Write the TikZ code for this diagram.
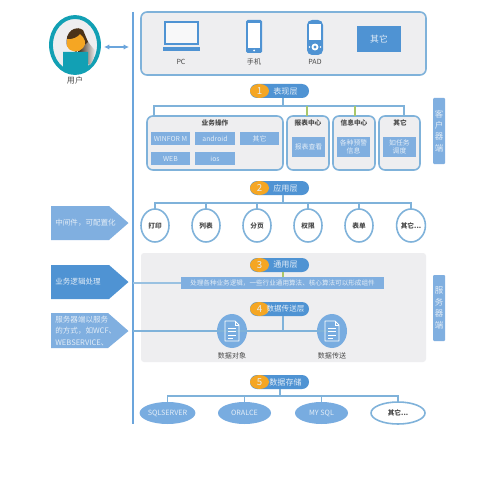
\documentclass[tikz,border=0pt]{standalone}
\usepackage{fontspec}
\setmainfont{Noto Sans CJK SC}
\usetikzlibrary{shapes.geometric,shapes.arrows,arrows.meta}
\definecolor{linec}{HTML}{7FB2DA}
\definecolor{mainl}{HTML}{6BA5DC}
\definecolor{panel}{HTML}{EEEEF0}
\definecolor{pillb}{HTML}{4F93D3}
\definecolor{innerb}{HTML}{80AFE0}
\definecolor{softw}{HTML}{E3EDF7}
\definecolor{txt}{HTML}{4A4A4A}
\definecolor{oran}{HTML}{F5A623}
\definecolor{teal1}{HTML}{12A0B4}
\definecolor{green1}{HTML}{A9C76A}
\definecolor{circb}{HTML}{78ACE0}
\newcommand{\fs}[1]{\fontsize{#1}{#1}\selectfont}
\newcommand{\bx}[7]{%
  \pgfmathsetmacro\cxx{(#2+#4)/2}\pgfmathsetmacro\cyy{(#3+#5)/2}%
  \pgfmathsetmacro\ww{abs(#4-#2)*0.02}\pgfmathsetmacro\hh{abs(#5-#3)*0.02}%
  \node[#6,minimum width=\ww cm,minimum height=\hh cm,inner sep=0pt,outer sep=0pt] (#1) at (\cxx,\cyy) {#7};}
\newcommand{\pill}[6][4.6]{% size, name, x1, y1, number, text
  \pgfmathsetmacro\pxb{#3+59}\pgfmathsetmacro\pyb{#4+14}\pgfmathsetmacro\oxb{#3+19}%
  \bx{#2}{#3}{#4}{\pxb}{\pyb}{pillbox}{}
  \bx{#2o}{#3}{#4}{\oxb}{\pyb}{pillnum}{#5}
  \node[pilltext,font=\fs{#1}] (#2t) at ([xshift=0.12cm]#2.center) {#6};}
\newcommand{\docicon}[1]{%
  \begin{scope}[shift={(#1)}]
    \draw[white,line width=0.5pt,line join=round] (-7,-10) -- (3,-10) -- (7,-6) -- (7,10) -- (-7,10) -- cycle;
    \draw[white,line width=0.4pt] (3,-10) -- (3,-6) -- (7,-6);
    \draw[white,line width=0.5pt] (-4,-3) -- (4,-3) (-4,0.5) -- (4,0.5) (-4,4) -- (4,4) (-4,7) -- (1,7);
  \end{scope}}
\tikzset{
  pillbox/.style={fill=pillb,rounded corners=0.14cm},
  pillnum/.style={shape=ellipse,fill=oran,text=softw,font=\fs{5.5}},
  pilltext/.style={text=softw},
  treeline/.style={draw=linec,line width=0.8pt},
  treeg/.style={draw=green1,line width=0.8pt},
  mainline/.style={draw=mainl,line width=1.1pt},
  grp/.style={draw=linec,line width=0.9pt,fill=panel,rounded corners=0.12cm},
  innerbox/.style={fill=innerb,text=softw,font=\fs{3.9},align=center},
  captxt/.style={text=txt,font=\fs{4}},
  titletxt/.style={text=txt,font=\bfseries\fs{3.8}},
  circbox/.style={shape=ellipse,draw=linec,line width=0.9pt,fill=white,text=txt,font=\bfseries\fs{3.8}},
  sidebox/.style={fill=innerb,text=softw,font=\fs{4.8},align=center,rounded corners=0.02cm},
  tagtxt/.style={text=softw,font=\fs{4.3},align=left},
  dbbox/.style={shape=ellipse,fill=circb,text=softw,font=\fs{4.1}},
  docc/.style={shape=ellipse,fill=circb},
}
\begin{document}
\begin{tikzpicture}[x=0.02cm,y=-0.02cm]
\useasboundingbox (0,0) rectangle (500,500);
\fill[white] (0,0) rectangle (500,500);

% grey panel
\bx{pan}{141}{253}{426}{362}{fill=panel,rounded corners=0.06cm}{}

% top box
\bx{top}{141}{12}{426}{75}{grp}{}

% user
\bx{user}{51}{17}{99}{73}{shape=ellipse,draw=teal1,line width=2.2pt,fill=panel}{}
\shade[left color=black!70!brown,right color=panel] (78,28) .. controls (86,36) and (88,44) .. (95,50) .. controls (95,56) and (93,62) .. (90,65) -- (78,60) -- cycle;
\fill[black!60!brown] (67,46) .. controls (64,31) and (76,25) .. (83,30) -- (88,42) -- (76,52) -- cycle;
\fill[oran] (67,39) .. controls (72,40) and (78,37) .. (80,34) .. controls (85,38) and (87,44) .. (83,48) .. controls (79,53) and (70,53) .. (67,46) -- cycle;
\fill[teal1] (63,52) -- (88,52) -- (88,69) .. controls (82,72) and (70,72) .. (63,69) -- cycle;
\node[captxt,font=\fs{4.6}] (userl) at (75,80) {用户};

% main line
\coordinate (mt) at (133,12);
\coordinate (mb) at (133,424);
\draw[mainline] (mt) -- (mb);
\coordinate (au) at (104,47);
\coordinate (am) at (129,47);
\draw[draw=mainl,line width=0.8pt,{Latex[length=3pt,width=3pt]}-{Latex[length=3pt,width=3pt]}] (au) -- (am);

% devices
\draw[draw=pillb,line width=0.9pt,fill=white!60!panel] (165,22) rectangle (198,44);
\fill[pillb] (163,47) -- (200,47) -- (200,51.5) -- (163,51.5) -- cycle;
\node[captxt] (pcl) at (181,62) {PC};
\fill[pillb,rounded corners=0.03cm] (246,20) rectangle (262,53);
\fill[white] (248,23) rectangle (260,48);
\fill[white] (254,50.5) circle (1);
\node[captxt] (phl) at (254,62) {手机};
\fill[pillb,rounded corners=0.1cm] (307,20) rectangle (323,55);
\fill[white] (309,24) rectangle (321,40);
\fill[white] (315,47) circle (3.5);
\fill[pillb] (315,47) circle (1.6);
\fill[white] (309.5,47) circle (0.8) (320.5,47) circle (0.8);
\node[captxt] (pdl) at (315,62) {PAD};
\bx{oth}{357}{26}{401}{52}{fill=pillb,text=softw,font=\fs{5}}{其它}

% layer 1
\pill{p1}{250}{84}{1}{表现层}
\coordinate (t1) at (283,106);
\coordinate (t1l) at (154,106);
\coordinate (t1g) at (307,106);
\coordinate (t1h) at (355,106);
\coordinate (t1r) at (404,106);
\bx{g1}{147}{116}{283}{170}{grp}{}
\bx{g2}{287}{116}{329}{170}{grp}{}
\bx{g3}{333}{116}{375}{170}{grp}{}
\bx{g4}{379}{116}{420}{170}{grp}{}
\draw[treeline] (t1 |- p1.south) -- (t1);
\draw[treeline] (t1l |- g1.north) -- (t1l) -- (t1r) -- (t1r |- g4.north);
\draw[treeg] (t1g) -- (t1g |- g2.north);
\draw[treeg] (t1h) -- (t1h |- g3.north);
\node[titletxt] (g1t) at (215,123) {业务操作};
\node[titletxt] (g2t) at (308,123) {报表中心};
\node[titletxt] (g3t) at (354,123) {信息中心};
\node[titletxt] (g4t) at (400,123) {其它};
\bx{i1}{151}{132}{190}{145}{innerbox}{WINFOR M}
\bx{i2}{195}{132}{235}{145}{innerbox}{android}
\bx{i3}{240}{132}{279}{145}{innerbox}{其它}
\bx{i4}{151}{152}{190}{165}{innerbox}{WEB}
\bx{i5}{195}{152}{235}{165}{innerbox}{ios}
\bx{i6}{292}{137}{325}{157}{innerbox}{报表查看}
\bx{i7}{337}{137}{370}{157}{innerbox}{各种预警\\[1pt]信息}
\bx{i8}{383}{137}{416}{157}{innerbox}{如任务\\[1pt]调度}
\bx{s1}{433}{98}{445}{164}{sidebox}{客\\[1.7pt]户\\[1.7pt]器\\[1.7pt]端}

% layer 2
\pill{p2}{250}{181}{2}{应用层}
\bx{c1}{141}{209}{169}{242}{circbox}{打印}
\bx{c2}{192}{209}{220}{242}{circbox}{列表}
\bx{c3}{243}{209}{271}{242}{circbox}{分页}
\bx{c4}{294}{209}{322}{242}{circbox}{权限}
\bx{c5}{345}{209}{373}{242}{circbox}{表单}
\bx{c6}{397}{209}{425}{242}{circbox}{其它...}
\coordinate (t2) at (283,203);
\draw[treeline] (t2 |- p2.south) -- (t2);
\draw[treeline] (c1.north) -- (c1.north |- t2) -- (c6.north |- t2) -- (c6.north);
\draw[treeline] (c2.north |- t2) -- (c2.north);
\draw[treeline] (c3.north |- t2) -- (c3.north);
\draw[treeline] (c4.north |- t2) -- (c4.north);
\draw[treeline] (c5.north |- t2) -- (c5.north);

% left tags
\fill[fill=innerb] (51,206) -- (109,206) -- (128.5,223) -- (109,240) -- (51,240) -- cycle;
\node[tagtxt,inner sep=0pt,anchor=west] (tag1) at (55,223) {中间件，可配置化};
\fill[fill=pillb] (51,265) -- (109,265) -- (128.5,282) -- (109,299) -- (51,299) -- cycle;
\node[tagtxt,inner sep=0pt,anchor=west] (tag2) at (55,282) {业务逻辑处理};
\fill[fill=innerb] (51,313) -- (108,313) -- (128.5,331) -- (108,348) -- (51,348) -- cycle;
\node[tagtxt,inner sep=0pt,anchor=west] (tag3) at (55,331) {服务器端以服务\\[2.2pt]的方式，如WCF、\\[2.2pt]WEBSERVICE、};

% layer 3
\pill{p3}{250}{258}{3}{通用层}
\bx{bar}{181}{277}{384}{289}{fill=innerb,text=softw,font=\fs{3.75}}{处理各种业务逻辑，一些行业通用算法、核心算法可以形成组件}
\draw[treeg] (p3.south -| t2) -- (bar.north -| t2);
\coordinate (m3) at (133,283);
\draw[draw=linec!80!white,line width=1pt] (m3) -- (bar.west);

% layer 4
\pill[4.3]{p4}{250}{302}{4}{数据传送层}
\coordinate (t4) at (283,331);
\coordinate (m4) at (133,331);
\bx{d1}{217}{314}{247}{348}{docc}{}
\bx{d2}{317}{314}{347}{348}{docc}{}
\draw[treeline] (t4 |- p4.south) -- (t4);
\draw[treeline] (m4) -- (d2.center);
\docicon{d1.center}
\docicon{d2.center}
\node[captxt] (d1l) at (232,356) {数据对象};
\node[captxt] (d2l) at (332,356) {数据传送};
\bx{s2}{433}{275}{445}{341}{sidebox}{服\\[1.7pt]务\\[1.7pt]器\\[1.7pt]端}

% layer 5
\pill{p5}{250}{375}{5}{数据存储}
\bx{e1}{141}{402}{194}{424}{dbbox}{SQLSERVER}
\bx{e2}{218}{402}{271}{424}{dbbox}{ORALCE}
\bx{e3}{295}{402}{348}{424}{dbbox}{MY SQL}
\bx{e4}{371}{402}{425}{424}{circbox}{其它...}
\coordinate (t5) at (280,396);
\draw[treeline] (t5 |- p5.south) -- (t5);
\draw[treeline] (e1.north) -- (e1.north |- t5) -- (e4.north |- t5) -- (e4.north);
\draw[treeline] (e2.north |- t5) -- (e2.north);
\draw[treeline] (e3.north |- t5) -- (e3.north);
\end{tikzpicture}
\end{document}
